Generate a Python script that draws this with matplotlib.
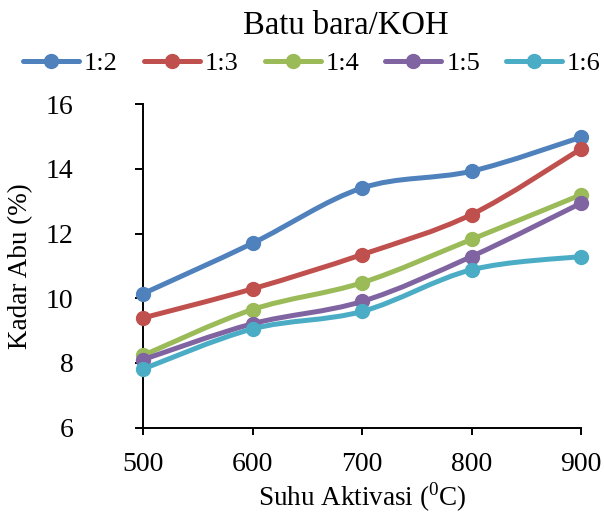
import matplotlib
matplotlib.use("Agg")
import matplotlib.pyplot as plt
from matplotlib.path import Path
from matplotlib.patches import PathPatch
from matplotlib.lines import Line2D

plt.rcParams['font.family'] = ['Liberation Serif', 'DejaVu Serif']
plt.rcParams['mathtext.fontset'] = 'custom'
plt.rcParams['mathtext.rm'] = 'Liberation Serif'

# ---- data ----
suhu = [500, 600, 700, 800, 900]
series_labels = ["1:2", "1:3", "1:4", "1:5", "1:6"]
abu_1_2 = [10.14, 11.70, 13.41, 13.93, 14.98]
abu_1_3 = [9.39, 10.29, 11.35, 12.59, 14.62]
abu_1_4 = [8.23, 9.65, 10.48, 11.82, 13.20]
abu_1_5 = [8.10, 9.21, 9.90, 11.29, 12.94]
abu_1_6 = [7.81, 9.05, 9.59, 10.88, 11.29]
yticks = [6, 8, 10, 12, 14, 16]
xticks = [500, 600, 700, 800, 900]
title = "Batu bara/KOH"
xlabel = r"Suhu Aktivasi ($^{\mathrm{0}}$C)"
ylabel = "Kadar Abu (%)"

colors = ["#4F81BD", "#C0504D", "#9BBB59", "#8064A2", "#4BACC6"]
all_series = [abu_1_2, abu_1_3, abu_1_4, abu_1_5, abu_1_6]

W, H = 604, 513
fig = plt.figure(figsize=(W / 100, H / 100), dpi=100)
ax = fig.add_axes([143 / W, 1 - 427.5 / H, 438 / W, 323.2 / H])


def smooth_path(xs, ys):
    """Excel-like smoothed line as cubic Bezier path (Catmull-Rom control points)."""
    n = len(xs)
    verts = [(xs[0], ys[0])]
    codes = [Path.MOVETO]
    for i in range(n - 1):
        i0 = max(i - 1, 0)
        i3 = min(i + 2, n - 1)
        c1 = (xs[i] + (xs[i + 1] - xs[i0]) / 6.0, ys[i] + (ys[i + 1] - ys[i0]) / 6.0)
        c2 = (xs[i + 1] - (xs[i3] - xs[i]) / 6.0, ys[i + 1] - (ys[i3] - ys[i]) / 6.0)
        verts += [c1, c2, (xs[i + 1], ys[i + 1])]
        codes += [Path.CURVE4] * 3
    return Path(verts, codes)


lw = 3.6
ms = 10
handles = []
for k, (vals, col, lab) in enumerate(zip(all_series, colors, series_labels)):
    patch = PathPatch(smooth_path(suhu, vals), facecolor="none", edgecolor=col,
                      lw=lw, capstyle="round", joinstyle="round",
                      transform=ax.transData, zorder=3 + 2 * k, clip_on=False)
    ax.add_patch(patch)
    ax.plot(suhu, vals, linestyle="none", marker="o", ms=ms, color=col,
            zorder=4 + 2 * k, clip_on=False)
    handles.append(Line2D([], [], color=col, lw=lw, marker="o", ms=ms,
                          solid_capstyle="round"))

ax.set_xlim(500, 900)
ax.set_ylim(6, 16)
ax.set_xticks(xticks)
ax.set_yticks(yticks)
ax.set_xticklabels([str(v) for v in xticks])
ax.set_yticklabels([str(v) for v in yticks])

for s in ["top", "right"]:
    ax.spines[s].set_visible(False)
for s in ["left", "bottom"]:
    ax.spines[s].set_linewidth(1.4)
    ax.spines[s].set_color("black")

ax.tick_params(axis="y", direction="out", length=6, width=1.4, pad=44,
               labelsize=20, colors="black")
ax.tick_params(axis="x", direction="out", length=5.3, width=1.4, pad=12,
               labelsize=20, colors="black")

ax.set_xlabel(xlabel, fontsize=19.5)
ax.xaxis.set_label_coords(362 / W, 1 - 505.5 / H, transform=fig.transFigure)
ax.xaxis.label.set_va("baseline")

ax.set_ylabel(ylabel, fontsize=19.5)
ax.yaxis.set_label_coords(21 / W, 1 - 266 / H, transform=fig.transFigure)
ax.yaxis.label.set_va("center")

fig.text(346 / W, 1 - 34.3 / H, title, fontsize=23.5, ha="center", va="baseline")

fs_leg = 19
em = fs_leg * 100 / 72
fig.legend(handles, series_labels, loc="center left",
           bbox_to_anchor=(23 / W, 1 - 63.5 / H), ncol=5, frameon=False,
           borderpad=0, borderaxespad=0, handlelength=56 / em,
           handletextpad=5 / em, columnspacing=26 / em, fontsize=fs_leg,
           numpoints=1)

fig.savefig("out.png", dpi=100)
